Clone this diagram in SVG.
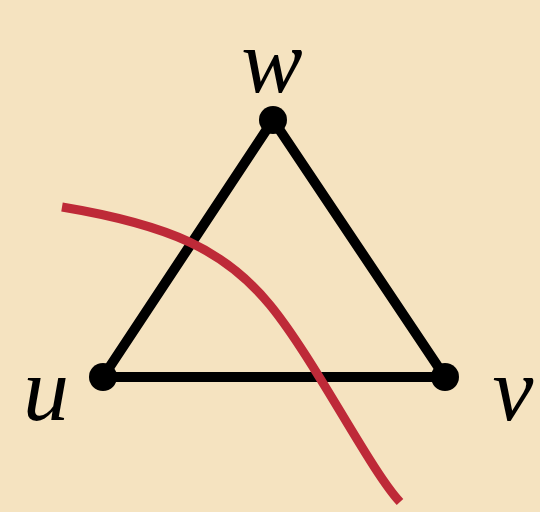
<svg xmlns="http://www.w3.org/2000/svg" width="540" height="512" viewBox="0 0 540 512">
<style>
.edge{stroke:#000;stroke-width:10;stroke-linecap:round}
.dot{fill:#000}
.lbl{font-family:"Liberation Serif",serif;font-style:italic;font-size:92px;fill:#000;text-anchor:middle}
</style>
<rect width="540" height="512" fill="#F5E3C0"/>
<g id="connectors">
<line class="edge" x1="103" y1="377" x2="445" y2="377"/>
<line class="edge" x1="103" y1="377" x2="273" y2="120"/>
<line class="edge" x1="445" y1="377" x2="273" y2="120"/>
</g>
<g id="cut">
<path d="M62,207 C170,225 225,250 270,305 S370,470 400,502" fill="none" stroke="#BE2A38" stroke-width="9"/>
</g>
<g id="node-w"><circle class="dot" cx="273" cy="120" r="14"/><text class="lbl" x="272" y="92">w</text></g>
<g id="node-u"><circle class="dot" cx="103" cy="377" r="14"/><text class="lbl" x="46" y="420">u</text></g>
<g id="node-v"><circle class="dot" cx="445" cy="377" r="14"/><text class="lbl" x="513" y="420">v</text></g>
</svg>
